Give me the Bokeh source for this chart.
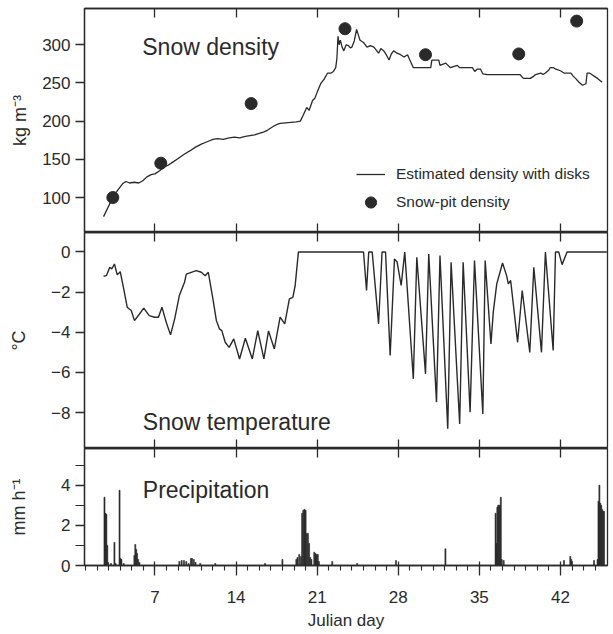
from bokeh.plotting import figure
from bokeh.layouts import column
from bokeh.models import (Range1d, LinearAxis, FixedTicker, Legend, LegendItem, Label,
                          CustomLabelingPolicy)
from bokeh.embed import file_html
from bokeh.resources import INLINE

FONT = "Liberation Sans"
INK = "#2a2a2a"

# ---------------- data ----------------
density_day = [2.56, 3.36, 3.8, 4.2, 4.5, 4.8, 5.2, 5.6, 5.95, 6.3, 6.67, 7.0, 7.4, 7.8, 8.1, 8.5,
               9.0, 9.55, 10.0, 10.5, 11.0, 11.5, 12.0, 12.4, 12.9, 13.4, 13.86, 14.3, 14.8, 15.2,
               15.6, 16.0, 16.4, 16.7, 17.0, 17.3, 17.6, 17.8, 18.5, 19.2, 19.55, 19.8, 20.1, 20.3,
               20.6, 20.8, 21.0, 21.3, 21.6, 21.9, 22.2, 22.4, 22.6, 22.7, 22.8, 22.9, 23.0, 23.15,
               23.3, 23.5, 23.7, 23.85, 24.0, 24.2, 24.4, 24.55, 24.7, 25.0, 25.3, 25.6, 25.9, 26.1,
               26.3, 26.5, 26.75, 27.0, 27.2, 27.4, 27.6, 27.9, 28.2, 28.5, 28.8, 29.0, 29.3, 30.8,
               30.9, 31.5, 31.6, 32.1, 32.5, 33.1, 33.3, 34.4, 34.6, 34.8, 35.1, 35.3, 35.7, 38.5,
               38.8, 39.4, 39.7, 39.85, 40.3, 40.5, 40.7, 41.0, 41.1, 41.4, 41.6, 42.0, 42.3, 42.9,
               43.1, 43.3, 43.6, 43.9, 44.2, 44.3, 44.5, 44.7, 45.0, 45.2, 45.6]
density_val = [75, 100, 110, 118, 121, 119, 120, 119, 122, 127, 130, 131, 135, 140, 142, 146,
               151, 157, 161, 166, 170, 173, 176, 177, 176, 178, 179, 178, 180, 181,
               182, 184, 186, 188, 191, 194, 196, 197, 198, 199, 200, 208, 218, 214,
               227, 230, 238, 249, 255, 263, 263, 265, 270, 282, 311, 300, 306, 297,
               292, 300, 299, 296, 297, 305, 320, 313, 306, 303, 297, 299, 297, 293,
               289, 295, 292, 286, 280, 288, 292, 289, 287, 284, 287, 280, 270, 270,
               280, 280, 273, 276, 270, 273, 270, 270, 265, 268, 268, 262, 261, 261,
               256, 256, 259, 261, 263, 261, 263, 267, 270, 270, 268, 266, 263, 263,
               259, 256, 251, 247, 249, 263, 263, 261, 258, 256, 251]

pit_day = [3.36, 7.5, 15.3, 23.4, 30.35, 38.4, 43.4]
pit_val = [100, 145, 223, 321, 287, 288, 331]

temp_day = [2.56, 2.8, 3.1, 3.27, 3.5, 3.74, 4.0, 4.3, 4.6, 4.95, 5.23, 5.66, 6.03, 6.5, 6.96,
            7.3, 7.6, 7.97, 8.34, 8.7, 9.1, 9.55, 9.7, 10.56, 11.0, 11.33, 11.6, 12.0, 12.3,
            12.56, 12.77, 13.06, 13.4, 13.8, 14.3, 14.8, 15.4, 15.87, 16.4, 16.8, 17.3, 17.8,
            18.2, 18.6, 18.9, 19.1, 19.38, 25.0, 25.26, 25.45, 25.75, 26.3, 26.6, 26.9, 27.3,
            27.67, 27.9, 28.25, 28.56, 29.3, 29.6, 30.35, 30.63, 31.3, 31.6, 32.27, 32.56,
            33.3, 33.6, 34.2, 34.58, 35.3, 35.5, 36.0, 36.2, 36.5, 37.0, 37.35, 37.5, 37.7,
            38.3, 38.7, 39.35, 39.7, 40.36, 40.7, 41.37, 41.57, 41.85, 42.14, 42.57, 46.0]
temp_val = [-1.21, -1.18, -0.76, -0.84, -0.6, -1.14, -0.98, -1.84, -2.75, -2.92, -3.42, -3.09,
            -2.8, -3.17, -3.25, -3.25, -2.75, -3.5, -4.13, -3.33, -2.17, -1.51, -1.1, -0.93,
            -1.01, -1.18, -1.01, -2.34, -3.42, -3.83, -3.92, -4.5, -4.75, -4.33, -5.33, -4.3,
            -5.33, -3.92, -5.33, -3.93, -4.83, -3.25, -3.58, -2.34, -2.26, -1.67, 0.0, 0.0,
            -1.92, 0.0, 0.0, -3.58, 0.0, 0.0, -5.16, -0.35, -0.5, -1.67, 0.0, -6.32, -0.26,
            -6.07, -0.1, -7.48, -0.18, -8.81, -0.51, -8.57, -0.51, -7.98, -0.43, -8.07, -0.43,
            -4.58, -3.0, -1.59, -0.55, -1.18, -1.59, -1.42, -4.5, -1.92, -5.0, -0.76, -5.0,
            0.0, -4.91, 0.0, 0.0, -0.63, 0.0, 0.0]

precip_day = [2.64, 2.72, 2.8, 2.88, 2.96, 3.2, 3.5, 3.6, 3.94, 4.02, 4.1, 4.3,
              5.22, 5.3, 5.38, 5.45, 5.55, 5.65, 9.1, 9.3, 9.5, 9.7, 9.9, 10.1, 10.2, 10.35,
              10.5, 10.9, 12.2, 16.5, 18.0, 19.2, 19.3, 19.45, 19.6, 19.7, 19.8, 19.9, 20.0,
              20.1, 20.2, 20.3, 20.4, 20.5, 20.75, 20.85, 20.95, 21.05, 21.15, 22.3, 24.45,
              27.8, 32.07, 36.4, 36.47, 36.55, 36.62, 36.7, 36.78, 36.85, 36.93, 37.1, 42.3,
              42.85, 42.93, 43.0, 44.9, 45.2, 45.28, 45.36, 45.44, 45.52, 45.6, 45.68, 45.76]
precip_val = [3.4, 2.6, 2.55, 1.0, 0.15, 0.1, 1.15, 0.1, 3.75, 0.35, 0.3, 0.1,
              0.5, 1.05, 0.8, 0.6, 0.3, 0.15, 0.2, 0.25, 0.25, 0.2, 0.1, 0.35, 0.35, 0.3,
              0.15, 0.1, 0.1, 0.1, 0.3, 0.3, 0.4, 0.55, 0.45, 2.6, 2.75, 2.8, 2.75,
              1.6, 1.6, 1.1, 0.4, 0.3, 0.66, 0.6, 0.55, 0.55, 0.2, 0.2, 0.1,
              0.25, 0.83, 2.6, 1.1, 2.9, 3.0, 3.0, 3.0, 3.4, 0.3, 0.25, 0.25,
              0.45, 0.3, 0.2, 0.25, 0.3, 3.2, 4.0, 3.1, 3.0, 2.8, 2.7, 2.7]

x_ticks = [7, 14, 21, 28, 35, 42]
x_minor_ticks = [d for d in range(1, 46)]
density_ticks = [100, 150, 200, 250, 300]
temp_ticks = [0, -2, -4, -6, -8]
precip_ticks = [0, 2, 4]
precip_minor_ticks = [1, 3, 5]

# ---------------- layout ----------------
W = 612
x_range = Range1d(0.915, 46.06)


def base(height, yr, top, bottom):
    p = figure(width=W, height=height, x_range=x_range, y_range=Range1d(*yr),
               output_backend="svg", toolbar_location=None,
               x_axis_location=None, y_axis_location=None,
               min_border_left=84, min_border_right=5,
               min_border_top=top, min_border_bottom=bottom)
    p.grid.visible = False
    p.outline_line_color = INK
    p.outline_line_width = 1.3
    p.background_fill_color = "white"
    p.border_fill_color = "white"
    return p


def style_axis(ax):
    ax.axis_line_color = INK
    ax.axis_line_width = 1.3
    ax.major_tick_line_color = INK
    ax.major_tick_line_width = 1.3
    ax.minor_tick_line_color = INK
    ax.minor_tick_line_width = 1.1
    ax.major_label_text_font = FONT
    ax.major_label_text_font_size = "17px"
    ax.major_label_text_color = INK
    ax.axis_label_text_font = FONT
    ax.axis_label_text_font_size = "17px"
    ax.axis_label_text_font_style = "normal"
    ax.axis_label_text_color = INK


def yaxis(p, ticks, minor, label, standoff):
    ax = LinearAxis(ticker=FixedTicker(ticks=ticks, minor_ticks=minor), axis_label=label)
    style_axis(ax)
    ax.axis_label_text_font_size = "18px"
    ax.major_tick_in = 0
    ax.major_tick_out = 9
    ax.minor_tick_in = 0
    ax.minor_tick_out = 9
    ax.major_label_standoff = 5
    ax.axis_label_standoff = standoff
    p.add_layout(ax, "left")


def xborder(p, side):
    # shared panel border: ticks only, no tick labels
    ax = LinearAxis(ticker=FixedTicker(ticks=x_ticks, minor_ticks=[]))
    style_axis(ax)
    ax.major_tick_in = 9
    ax.major_tick_out = 0
    ax.minor_tick_in = 0
    ax.minor_tick_out = 0
    ax.major_label_text_font_size = "0px"
    ax.major_label_standoff = 0
    ax.major_label_policy = CustomLabelingPolicy(
        code="for (const i of indices) { indices.unset(i) }\nreturn indices")
    p.add_layout(ax, side)


# ---- top: density ----
p1 = base(232, (54.2, 347.5), 8, 0)
yaxis(p1, density_ticks, [], "kg m\u207b\u00b3", 9)
xborder(p1, "above")
xborder(p1, "below")
r_line = p1.line(density_day, density_val, line_width=1.3, color=INK)
r_pit = p1.scatter(pit_day, pit_val, marker="circle", size=12, color=INK)
p1.add_layout(Label(x=5.9, y=296.9, text="Snow density", text_font=FONT,
                    text_font_size="23px", text_color=INK, text_baseline="alphabetic"))
legend = Legend(items=[LegendItem(label="Estimated density with disks", renderers=[r_line]),
                       LegendItem(label="Snow-pit density", renderers=[r_pit])],
                location=(272, 16), orientation="vertical")
legend.border_line_color = None
legend.background_fill_alpha = 0
legend.padding = 0
legend.margin = 0
legend.spacing = 0
legend.glyph_width = 29
legend.glyph_height = 28
legend.label_height = 20
legend.label_standoff = 11
legend.label_text_font = FONT
legend.label_text_font_size = "15.5px"
legend.label_text_color = INK
p1.add_layout(legend, "center")

# ---- middle: temperature ----
p2 = base(216, (-9.79, 0.97), 0, 0)
yaxis(p2, temp_ticks, [], "\u00b0C", 19)
xborder(p2, "above")
xborder(p2, "below")
p2.line(temp_day, temp_val, line_width=1.4, color=INK)
p2.add_layout(Label(x=5.95, y=-8.48, text="Snow temperature", text_font=FONT,
                    text_font_size="23px", text_color=INK, text_baseline="alphabetic"))

# ---- bottom: precipitation ----
p3 = base(184, (0, 5.83), 0, 66)
yaxis(p3, precip_ticks, precip_minor_ticks, "mm h\u207b\u00b9", 29)
xborder(p3, "above")
xb = LinearAxis(ticker=FixedTicker(ticks=x_ticks, minor_ticks=x_minor_ticks), axis_label="Julian day")
style_axis(xb)
xb.major_tick_in = 4
xb.major_tick_out = 10
xb.minor_tick_in = 0
xb.minor_tick_out = 5
xb.major_label_standoff = 15
xb.axis_label_standoff = 5
p3.add_layout(xb, "below")
p3.vbar(x=precip_day, top=precip_val, bottom=0, width=0.09, fill_color=INK,
        line_color=INK, line_width=0.6)
p3.add_layout(Label(x=5.95, y=3.78, text="Precipitation", text_font=FONT,
                    text_font_size="23px", text_color=INK, text_baseline="alphabetic"))

layout = column(p1, p2, p3, spacing=0)

with open("out.html", "w") as f:
    f.write(file_html(layout, INLINE))
